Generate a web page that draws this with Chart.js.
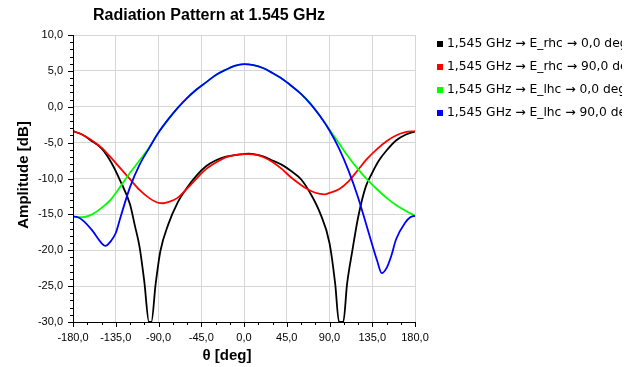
<!DOCTYPE html>
<html>
<head>
<meta charset="utf-8">
<script src="https://cdn.jsdelivr.net/npm/chart.js@4/dist/chart.umd.min.js"></script>
<style>
  html, body { margin: 0; padding: 0; background: #fff; overflow: hidden; }
  #wrap { position: relative; width: 631px; height: 367px; }
</style>
</head>
<body>
<div id="wrap"><canvas id="patternChart"></canvas></div>
<script>
"use strict";

// theta [deg] / amplitude [dB] for each trace
const angRhc0 = [-180, -170, -160, -150, -140, -130, -120, -115, -110, -105, -100, -97.5, -93, -88, -80, -70, -60, -50, -40, -30, -20, -10, 0, 5, 10, 20, 30, 40, 50, 60, 70, 80, 90, 96, 100, 104.5, 108.5, 114, 120, 128, 135, 142, 150, 160, 170, 180];
const ampRhc0 = [-3.4, -3.9, -4.8, -5.8, -7.7, -10.4, -13.6, -16.5, -19.5, -24.3, -30, -30, -24.7, -20.1, -16.5, -13.4, -11.3, -9.6, -8.3, -7.5, -7.0, -6.75, -6.6, -6.55, -6.6, -6.9, -7.5, -8.1, -9.0, -10.1, -12.1, -14.8, -19.0, -24.7, -30, -30, -24.7, -20.1, -15.5, -11.2, -9.2, -7.5, -6.1, -4.7, -3.9, -3.45];

const angRhc90 = [-180, -170, -160, -150, -140, -130, -120, -110, -100, -90, -85, -80, -70, -60, -50, -40, -30, -20, -10, 0, 5, 10, 20, 30, 40, 50, 60, 70, 80, 85, 90, 100, 110, 120, 130, 140, 150, 160, 170, 180];
const ampRhc90 = [-3.4, -3.9, -4.7, -5.7, -7.1, -8.6, -10.1, -11.6, -12.7, -13.4, -13.45, -13.3, -12.7, -11.4, -10.0, -8.7, -7.8, -7.1, -6.75, -6.6, -6.6, -6.65, -7.0, -7.7, -8.7, -9.9, -10.9, -11.7, -12.15, -12.2, -12.0, -11.5, -10.4, -8.8, -7.2, -5.9, -4.8, -4.0, -3.55, -3.4];

const angLhc0 = [-180, -170, -160, -150, -140, -130, -120, -110, -100, -90, -80, -70, -60, -50, -40, -30, -20, -10, 0, 10, 20, 30, 40, 50, 60, 70, 80, 90, 100, 110, 120, 130, 140, 150, 160, 170, 180];
const ampLhc0 = [-15.3, -15.4, -15.0, -14.1, -12.9, -11.1, -9.2, -7.5, -5.7, -3.6, -1.8, -0.2, 1.2, 2.4, 3.4, 4.4, 5.1, 5.7, 5.95, 5.8, 5.4, 4.7, 3.9, 2.9, 1.8, 0.4, -1.3, -3.2, -5.1, -7.0, -8.7, -10.2, -11.5, -12.7, -13.7, -14.5, -15.2];

const angLhc90 = [-180, -175, -170, -160, -150, -146, -140, -135, -130, -120, -110, -100, -90, -80, -70, -60, -50, -40, -30, -20, -10, 0, 10, 20, 30, 40, 50, 60, 70, 80, 90, 100, 110, 120, 130, 140, 145, 150, 155, 160, 170, 175, 180];
const ampLhc90 = [-15.3, -15.4, -15.8, -17.2, -19.0, -19.4, -18.7, -17.6, -15.4, -11.2, -8.1, -5.8, -3.6, -1.8, -0.2, 1.2, 2.4, 3.4, 4.4, 5.1, 5.7, 5.95, 5.8, 5.4, 4.7, 3.9, 2.9, 1.8, 0.4, -1.3, -3.3, -5.8, -8.9, -12.6, -17.0, -21.4, -23.2, -22.5, -20.8, -18.5, -16.1, -15.4, -15.2];

const seriesNames = [
  "1,545 GHz \u2192 E_rhc \u2192 0,0 deg",
  "1,545 GHz \u2192 E_rhc \u2192 90,0 deg",
  "1,545 GHz \u2192 E_lhc \u2192 0,0 deg",
  "1,545 GHz \u2192 E_lhc \u2192 90,0 deg"
];
const seriesColors = ["#000000", "#ff0000", "#00ff00", "#0000ff"];

const toPoints = (xs, ys) => xs.map((x, i) => ({ x: x, y: ys[i] }));
const fmt = v => v.toFixed(1).replace(".", ",");

// axes lines, minor ticks, titles and legend
const decorations = {
  id: "decorations",
  afterDraw(chart) {
    const ctx = chart.ctx;
    const a = chart.chartArea;
    const xs = chart.scales.x, ys = chart.scales.y;
    ctx.save();
    ctx.strokeStyle = "#000";
    ctx.lineWidth = 1;
    ctx.beginPath();
    ctx.moveTo(a.left + 0.5, a.top);
    ctx.lineTo(a.left + 0.5, a.bottom + 0.5);
    ctx.lineTo(a.right, a.bottom + 0.5);
    for (let v = -30; v <= 10; v += 1) {
      const y = Math.round(ys.getPixelForValue(v)) + 0.5;
      const len = v % 5 === 0 ? 5 : 3;
      ctx.moveTo(a.left - len, y);
      ctx.lineTo(a.left, y);
    }
    for (let v = -180; v <= 180; v += 15) {
      const x = Math.round(xs.getPixelForValue(v)) + 0.5;
      const len = v % 45 === 0 ? 5 : 3;
      ctx.moveTo(x, a.bottom);
      ctx.lineTo(x, a.bottom + len);
    }
    ctx.stroke();

    ctx.fillStyle = "#000";
    ctx.textAlign = "center";
    ctx.textBaseline = "middle";
    ctx.font = "bold 16px 'Liberation Sans'";
    ctx.fillText("Radiation Pattern at 1.545 GHz", 209, 16);

    ctx.font = "bold 15px 'Liberation Sans'";
    ctx.fillText("\u03b8 [deg]", 227, 356);
    ctx.save();
    ctx.translate(24, 175);
    ctx.rotate(-Math.PI / 2);
    ctx.fillText("Amplitude [dB]", 0, 0);
    ctx.restore();

    // legend column is cut off at the panel edge
    ctx.beginPath();
    ctx.rect(430, 30, 192, 100);
    ctx.clip();
    ctx.textAlign = "left";
    ctx.font = "12.3px 'DejaVu Sans'";
    seriesNames.forEach((name, i) => {
      const y = 44 + i * 23;
      ctx.fillStyle = seriesColors[i];
      ctx.fillRect(437, y - 3, 6, 6);
      ctx.fillStyle = "#000";
      ctx.fillText(name, 447, y);
    });
    ctx.restore();
  }
};

const datasets = [
  toPoints(angRhc0, ampRhc0),
  toPoints(angRhc90, ampRhc90),
  toPoints(angLhc0, ampLhc0),
  toPoints(angLhc90, ampLhc90)
].map((pts, i) => ({
  label: seriesNames[i],
  data: pts,
  borderColor: seriesColors[i],
  backgroundColor: seriesColors[i],
  borderWidth: 1.8,
  pointRadius: 0,
  cubicInterpolationMode: "monotone",
  order: 4 - i
}));

new Chart(document.getElementById("patternChart"), {
  type: "line",
  data: { datasets: datasets },
  options: {
    responsive: true,
    maintainAspectRatio: false,
    animation: false,
    layout: { padding: { left: 0, top: 35, right: 216, bottom: 0 } },
    plugins: {
      legend: { display: false },
      title: { display: false },
      tooltip: { enabled: false }
    },
    scales: {
      x: {
        type: "linear",
        min: -180,
        max: 180,
        afterFit: s => { s.height = 45; },
        ticks: {
          stepSize: 45,
          maxRotation: 0,
          autoSkip: false,
          padding: 9,
          color: "#000",
          font: { family: "'Liberation Sans'", size: 11 },
          callback: v => fmt(v)
        },
        grid: { color: "#d6d6d6", lineWidth: 1, drawTicks: false },
        border: { display: false }
      },
      y: {
        min: -30,
        max: 10,
        afterFit: s => { s.width = 73; },
        ticks: {
          stepSize: 5,
          padding: 10,
          color: "#000",
          font: { family: "'Liberation Sans'", size: 11 },
          callback: v => fmt(v)
        },
        grid: { color: "#d6d6d6", lineWidth: 1, drawTicks: false },
        border: { display: false }
      }
    }
  },
  plugins: [decorations]
});
</script>
</body>
</html>
